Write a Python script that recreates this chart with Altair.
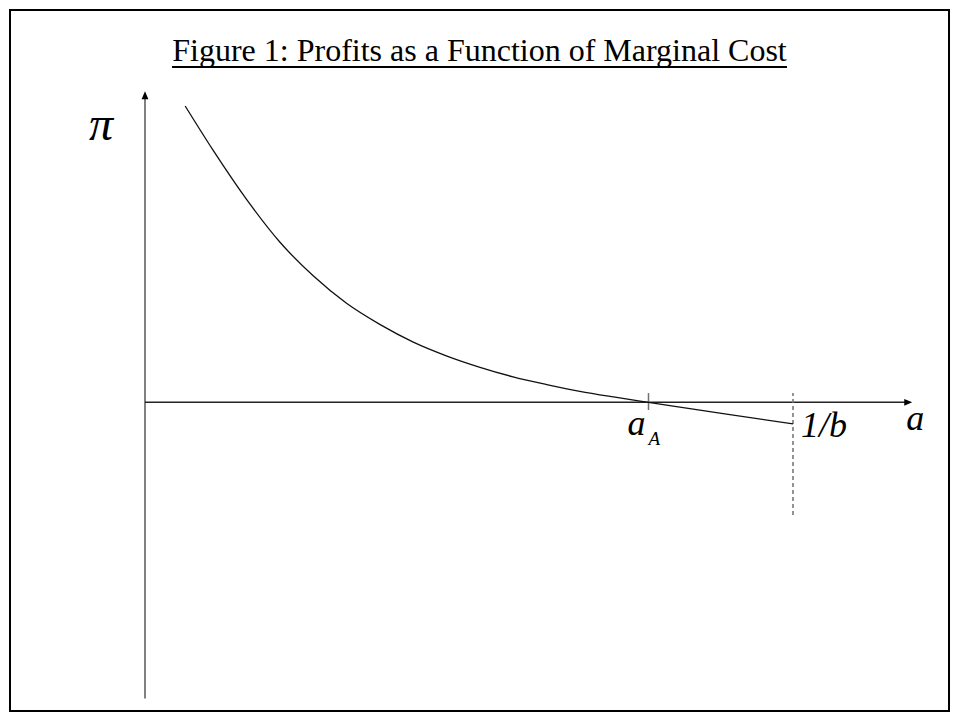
import altair as alt
import pandas as pd

# ---- values (a = marginal cost, pi = profit) ----
curve_a = [0.062, 0.105, 0.157, 0.208, 0.260, 0.311, 0.363, 0.414, 0.466,
           0.517, 0.568, 0.620, 0.671, 0.723, 0.777, 0.900, 1.000]
curve_pi = [1.000, 0.851, 0.684, 0.541, 0.426, 0.334, 0.262, 0.203, 0.156,
            0.118, 0.086, 0.060, 0.037, 0.018, 0.000, -0.041, -0.073]

a_A = 0.777          # where profits cross zero
inv_b = 1.0          # 1/b, end of the curve
x_axis_end = 1.184
y_axis_top = 1.05
y_axis_bottom = -1.0
dash_top = 0.031
dash_bottom = -0.380
tick_top = 0.031
tick_bottom = -0.026

title_text = "Figure 1: Profits as a Function of Marginal Cost"
label_pi = "π"
label_aA = "a"
label_aA_sub = "A"
label_invb = "1/b"
label_axis_a = "a"

FONT = "Liberation Serif"

X_DOMAIN = [-0.20833, 1.24074]
Y_DOMAIN = [-1.04185, 1.32400]
xs = alt.Scale(domain=X_DOMAIN, nice=False, zero=False)
ys = alt.Scale(domain=Y_DOMAIN, nice=False, zero=False)

def X(field):
    return alt.X(field, type="quantitative", scale=xs, axis=None)

def Y(field):
    return alt.Y(field, type="quantitative", scale=ys, axis=None)

curve_df = pd.DataFrame({"a": curve_a, "pi": curve_pi})

curve = alt.Chart(curve_df).mark_line(
    color="#111111", strokeWidth=1.3, interpolate="monotone"
).encode(x=X("a"), y=Y("pi"))

# vertical (pi) axis
v_axis = alt.Chart(pd.DataFrame({"a": [0.0], "pi": [y_axis_bottom], "pi2": [y_axis_top]})).mark_rule(
    color="#808080", strokeWidth=2, y2Offset=5
).encode(x=X("a"), y=Y("pi"), y2="pi2:Q")

v_arrow = alt.Chart(pd.DataFrame({"a": [0.0], "pi": [y_axis_top]})).mark_point(
    shape="M0,0L-0.85,2L0.85,2Z", size=64, filled=True, color="#000000", opacity=1, strokeWidth=0
).encode(x=X("a"), y=Y("pi"))

# horizontal (a) axis
h_axis = alt.Chart(pd.DataFrame({"a": [0.0], "a2": [x_axis_end], "pi": [0.0]})).mark_rule(
    color="#222222", strokeWidth=1.5, x2Offset=-5
).encode(x=X("a"), x2="a2:Q", y=Y("pi"))

h_arrow = alt.Chart(pd.DataFrame({"a": [x_axis_end], "pi": [0.0]})).mark_point(
    shape="M0,0L-2,-0.85L-2,0.85Z", size=64, filled=True, color="#000000", opacity=1, strokeWidth=0
).encode(x=X("a"), y=Y("pi"))

# tick at a_A
tick = alt.Chart(pd.DataFrame({"a": [a_A], "pi": [tick_bottom], "pi2": [tick_top]})).mark_rule(
    color="#707070", strokeWidth=1.5
).encode(x=X("a"), y=Y("pi"), y2="pi2:Q")

# dashed line at 1/b
dashed = alt.Chart(pd.DataFrame({"a": [inv_b], "pi": [dash_bottom], "pi2": [dash_top]})).mark_rule(
    color="#707070", strokeWidth=1.5, strokeDash=[4, 3]
).encode(x=X("a"), y=Y("pi"), y2="pi2:Q")

def label(text, a, pi, size, align, dx, dy):
    return alt.Chart(pd.DataFrame({"a": [a], "pi": [pi], "t": [text]})).mark_text(
        font=FONT, fontSize=size, fontStyle="italic", color="#000000",
        align=align, baseline="alphabetic", dx=dx, dy=dy
    ).encode(x=X("a"), y=Y("pi"), text="t:N")

lab_pi = label(label_pi, 0.0, y_axis_top, 48, "right", -32, 49)
lab_aA = label(label_aA, a_A, 0.0, 36, "right", -3, 33)
lab_aA_sub = label(label_aA_sub, a_A, 0.0, 19, "left", 0, 43)
lab_invb = label(label_invb, inv_b, 0.0, 36, "left", 8, 35)
lab_axis_a = label(label_axis_a, x_axis_end, 0.0, 36, "center", 3, 28)

# title with underline
title = alt.Chart(pd.DataFrame({"t": [title_text]})).mark_text(
    font=FONT, fontSize=32, color="#000000", align="center", baseline="alphabetic"
).encode(x=alt.value(469.5), y=alt.value(50.7), text="t:N")

underline = alt.Chart(pd.DataFrame({"t": [title_text]})).mark_rule(
    color="#000000", strokeWidth=2
).encode(x=alt.value(162), x2=alt.value(777), y=alt.value(57))

chart = alt.layer(
    v_axis, h_axis, tick, dashed, curve, v_arrow, h_arrow,
    lab_pi, lab_aA, lab_aA_sub, lab_invb, lab_axis_a, title, underline
).properties(
    width=939, height=701,
    autosize=alt.AutoSizeParams(type="none"),
    padding={"left": 2, "top": 2, "right": 2, "bottom": 2},
    background="white",
).configure_view(
    stroke="#000000", strokeWidth=2
)

chart.save("out.html", embed_options={"renderer": "svg", "actions": False})
